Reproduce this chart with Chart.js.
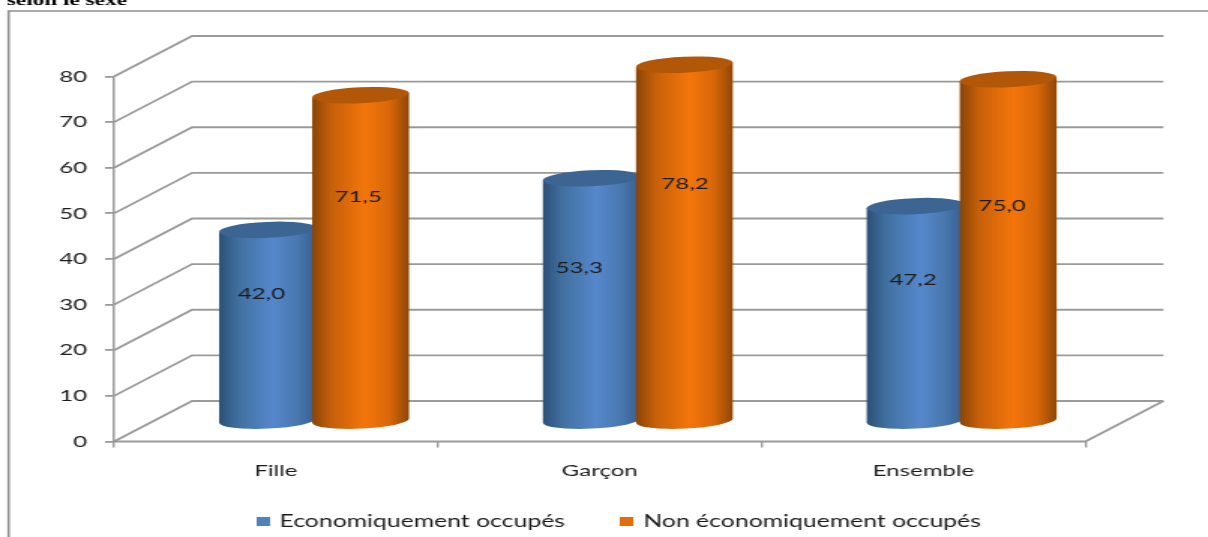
<!DOCTYPE html>
<html><head><meta charset="utf-8">
<style>
html,body{margin:0;padding:0;background:#fff;overflow:hidden;width:1208px;height:537px}
#w{width:805px;height:537px;transform:scaleX(1.5006);transform-origin:0 0}
canvas{filter:blur(0.35px)}
</style>
<script src="https://cdn.jsdelivr.net/npm/chart.js@4/dist/chart.umd.js"></script>
</head><body><div id="w"><canvas id="c" width="805" height="537"></canvas></div>
<script>
const categories = ["Fille", "Garçon", "Ensemble"];
const occupes = [42.0, 53.3, 47.2];
const nonOccupes = [71.5, 78.2, 75.0];
const seriesNames = ["Economiquement occupés", "Non économiquement occupés"];
const seriesColors = ["#4f81bd", "#e46c0a"];
const fontName = "Lato";
const gray = "#9a9a9a";
const depthX = 52, depthY = 40.5, barShiftX = 25.4, barShiftY = 20;
const labelLift = [[31, 32, 34], [61, 59, 44]];
const labelNudge = [[-4, -8, -1.3], [-1.5, 0.5, -4]];
const ramps = [
  {top:"#3c6594", stops:["#2c5079","#41709f","#5588cc","#4a78b0","#375f90"]},
  {top:"#b25607", stops:["#8a4507","#c7600a","#f4760b","#d9670a","#8f4706"]}
];
const fmt = v => v.toFixed(1).replace(".", ",");

const swatches = seriesColors.map(col=>{
  const s = document.createElement("canvas");
  s.width = 9; s.height = 9;
  const x = s.getContext("2d"); x.fillStyle = col; x.fillRect(0,0,9,9);
  return s;
});

function drawCylinders(ch, index){
  const c = ch.ctx, r = ramps[index];
  ch.getDatasetMeta(index).data.forEach(el=>{
    const cx = el.x+barShiftX, hw = el.width/2, top = el.y-barShiftY, bot = el.base-barShiftY;
    const rot = Math.atan(-2.2/hw), rx = hw/Math.cos(rot), tilt = 2.2;
    const g = c.createLinearGradient(cx-hw,0,cx+hw,0);
    [0,.2,.55,.8,1].forEach((s,i)=>g.addColorStop(s,r.stops[i]));
    c.save();
    c.fillStyle = g; c.beginPath();
    c.moveTo(cx-hw,top+tilt); c.lineTo(cx-hw,bot+tilt);
    c.ellipse(cx,bot,rx,8,rot,Math.PI,0,true);
    c.lineTo(cx+hw,top-tilt); c.closePath(); c.fill();
    c.fillStyle = r.top; c.beginPath();
    c.ellipse(cx,top,rx,8,rot,0,Math.PI*2); c.fill();
    c.restore();
  });
}

const cyl = {
  id:"cyl",
  beforeDraw(ch){
    const c = ch.ctx; c.save();
    c.strokeStyle = "#8e8e8e"; c.lineWidth = 1.6;
    c.beginPath(); c.moveTo(1000,11); c.lineTo(5.7,11); c.lineTo(5.7,537); c.stroke();
    c.fillStyle = "#000"; c.font = "bold 15.5px 'Liberation Serif'";
    c.textBaseline = "alphabetic"; c.textAlign = "left";
    c.fillText("selon le sexe", 4.5, 5);
    c.restore();
  },
  beforeDatasetsDraw(ch){
    const c = ch.ctx, y = ch.scales.y, a = ch.chartArea;
    c.save(); c.strokeStyle = gray; c.lineWidth = 1.8;
    y.ticks.forEach(t=>{
      const p = y.getPixelForValue(t.value);
      c.beginPath(); c.moveTo(a.left,p); c.lineTo(a.left+depthX,p-depthY); c.lineTo(a.right+depthX,p-depthY); c.stroke();
    });
    const b = y.getPixelForValue(0);
    c.beginPath(); c.moveTo(a.left,b); c.lineTo(a.right,b); c.lineTo(a.right+depthX,b-depthY); c.stroke();
    c.restore();
    drawCylinders(ch,0);
    drawCylinders(ch,1);
  },
  beforeDatasetDraw(){ return false; },
  afterDatasetsDraw(ch){
    const c = ch.ctx; c.save();
    c.fillStyle = "#1c1c1c"; c.font = "16px "+fontName; c.textAlign = "center"; c.textBaseline = "middle";
    ch.data.datasets.forEach((d,i)=>{
      ch.getDatasetMeta(i).data.forEach((el,j)=>{
        const mid = (el.y+el.base)/2-barShiftY;
        c.fillText(fmt(d.data[j]), el.x+barShiftX+labelNudge[i][j], mid-labelLift[i][j]);
      });
    });
    c.restore();
  },
  afterLayout(ch){
    const l = ch.legend;
    l.left = 0; l.right = 826.7; l.top = 474.4; l.bottom = 537;
  }
};

Chart.defaults.font.family = fontName;
Chart.defaults.font.size = 16;
Chart.defaults.color = "#1c1c1c";

new Chart(document.getElementById("c"),{
  type:"bar",
  data:{labels:categories,datasets:[
    {label:seriesNames[0],data:occupes,backgroundColor:seriesColors[0]},
    {label:seriesNames[1],data:nonOccupes,backgroundColor:seriesColors[1]}
  ]},
  plugins:[cyl],
  options:{
    responsive:false,animation:false,
    devicePixelRatio:1,
    layout:{padding:{left:0,right:81.7,top:76.5,bottom:5.5}},
    datasets:{bar:{categoryPercentage:0.575,barPercentage:1.04}},
    plugins:{
      tooltip:{enabled:false},
      legend:{position:"bottom",maxHeight:40,
        labels:{usePointStyle:true,pointStyleWidth:5,padding:39,font:{size:16.5},color:"#1c1c1c",
          generateLabels(ch){
            return Chart.defaults.plugins.legend.labels.generateLabels(ch)
              .map((it,i)=>({...it,pointStyle:swatches[i]}));
          }}}
    },
    scales:{
      x:{afterFit(s){s.height=50},
        grid:{drawOnChartArea:false,color:gray,tickLength:6,lineWidth:1.4,offset:true},
        border:{display:false},
        ticks:{padding:14,font:{size:16}}},
      y:{min:0,max:80,afterFit(s){s.width=76},
        grid:{drawOnChartArea:false,color:gray,tickLength:6,lineWidth:1.8},
        border:{display:true,color:gray,width:1.5},
        ticks:{stepSize:10,padding:12,font:{size:16}}}
    }
  }
});
</script></body></html>
